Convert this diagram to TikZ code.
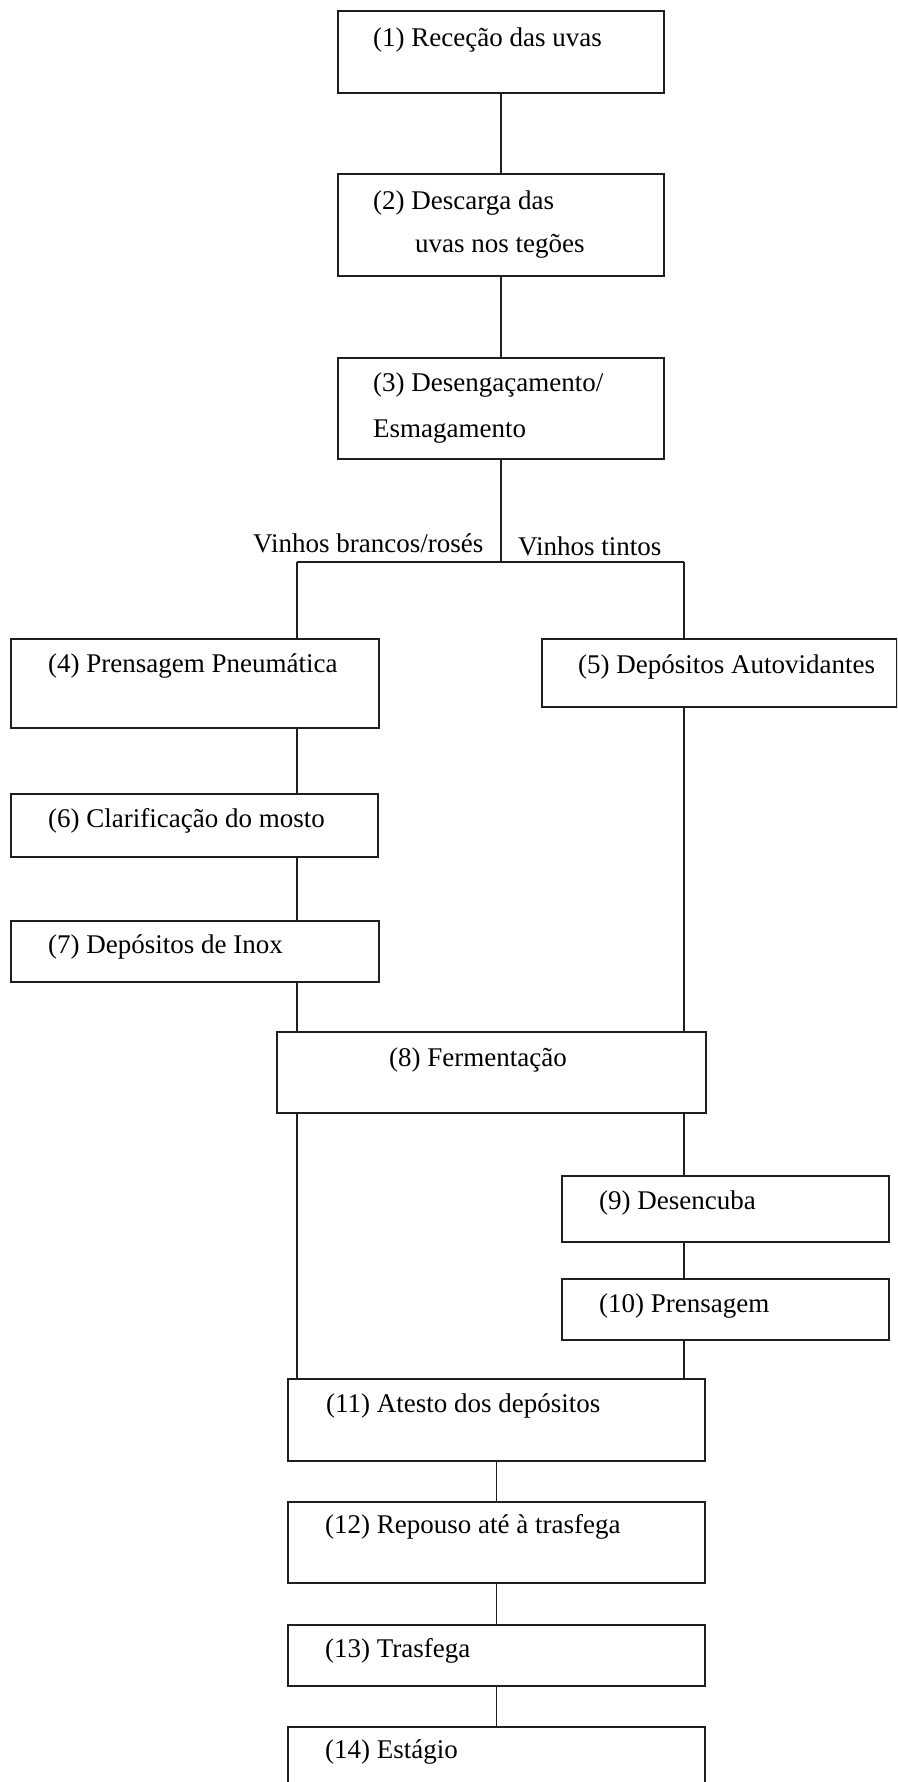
\documentclass[tikz,border=0pt]{standalone}
\usepackage{fontspec}
\setmainfont{Liberation Serif}
\begin{document}
\begin{tikzpicture}[x=1pt,y=-1pt,
  box/.style={draw=black!88, line width=1.7pt, inner sep=0pt, anchor=north west},
  txt/.style={anchor=base west, inner sep=0pt, font=\fontsize{27}{32}\selectfont},
  conn/.style={draw=black!88, line width=1.6pt}]
\useasboundingbox (0,0) rectangle (897,1782);
\clip (0,0) rectangle (897,1782);
\fill[white] (0,0) rectangle (897,1782);
% boxes
\node[box, minimum width=326pt, minimum height=82pt]  (b1)  at (337,10) {};
\node[box, minimum width=326pt, minimum height=102pt] (b2)  at (337,173) {};
\node[box, minimum width=326pt, minimum height=101pt] (b3)  at (337,357) {};
\node[box, minimum width=368pt, minimum height=89pt]  (b4)  at (10,638) {};
\node[box, minimum width=355pt, minimum height=68pt]  (b5)  at (541,638) {};
\node[box, minimum width=367pt, minimum height=63pt]  (b6)  at (10,793) {};
\node[box, minimum width=368pt, minimum height=61pt]  (b7)  at (10,920) {};
\node[box, minimum width=429pt, minimum height=81pt]  (b8)  at (276,1031) {};
\node[box, minimum width=327pt, minimum height=66pt]  (b9)  at (561,1175) {};
\node[box, minimum width=327pt, minimum height=61pt]  (b10) at (561,1278) {};
\node[box, minimum width=417pt, minimum height=82pt]  (b11) at (287,1378) {};
\node[box, minimum width=417pt, minimum height=81pt]  (b12) at (287,1501) {};
\node[box, minimum width=417pt, minimum height=61pt]  (b13) at (287,1624) {};
\node[box, minimum width=417pt, minimum height=100pt] (b14) at (287,1726) {};
% texts
\node[txt] (t1)  at (373,47)  {(1) Receção das uvas};
\node[txt] (t2a) at (373,209) {(2) Descarga das};
\node[txt] (t2b) at (415,252) {uvas nos tegões};
\node[txt] (t3a) at (373,391) {(3) Desengaçamento/};
\node[txt] (t3b) at (373,437) {Esmagamento};
\node[txt] (t4)  at (48,672)  {(4) Prensagem Pneumática};
\node[txt] (t5)  at (578,673) {(5) Depósitos Autovidantes};
\node[txt] (t6)  at (48,827)  {(6) Clarificação do mosto};
\node[txt] (t7)  at (48,953)  {(7) Depósitos de Inox};
\node[txt] (t8)  at (389,1066) {(8) Fermentação};
\node[txt] (t9)  at (599,1209) {(9) Desencuba};
\node[txt] (t10) at (599,1312) {(10) Prensagem};
\node[txt] (t11) at (326,1412) {(11) Atesto dos depósitos};
\node[txt] (t12) at (325,1533) {(12) Repouso até à trasfega};
\node[txt] (t13) at (325,1657) {(13) Trasfega};
\node[txt] (t14) at (325,1758) {(14) Estágio};
\node[txt] (lw)  at (253,552) {Vinhos brancos/rosés};
\node[txt] (lt)  at (518,555) {Vinhos tintos};
% branch points
\coordinate (bl) at (297,562);
\coordinate (br) at (684,562);
% connectors
\draw[conn] (b1.south) -- (b2.north);
\draw[conn] (b2.south) -- (b3.north);
\draw[conn] (b3.south) -- (b3.south |- bl);
\draw[conn] (bl) -- (br);
\draw[conn] (bl) -- (bl |- b4.north);
\draw[conn] (br) -- (br |- b5.north);
\draw[conn] (b4.south -| bl) -- (b6.north -| bl);
\draw[conn] (b6.south -| bl) -- (b7.north -| bl);
\draw[conn] (b7.south -| bl) -- (b8.north -| bl);
\draw[conn] (b8.south -| bl) -- (b11.north -| bl);
\draw[conn] (b5.south -| br) -- (b8.north -| br);
\draw[conn] (b8.south -| br) -- (b9.north -| br);
\draw[conn] (b9.south -| br) -- (b10.north -| br);
\draw[conn] (b10.south -| br) -- (b11.north -| br);
\draw[conn] (b11.south) -- (b12.north);
\draw[conn] (b12.south) -- (b13.north);
\draw[conn] (b13.south) -- (b14.north);
\end{tikzpicture}
\end{document}
